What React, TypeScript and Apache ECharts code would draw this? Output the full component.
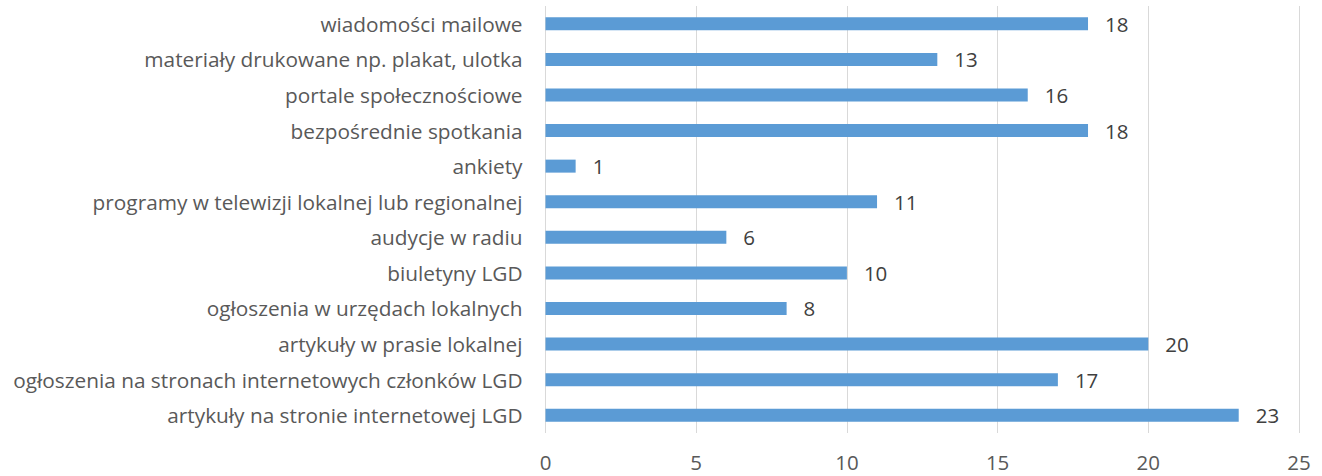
import React, { useEffect, useRef } from "react";
import * as echarts from "echarts";

const categories = [
  "artykuły na stronie internetowej LGD",
  "ogłoszenia na stronach internetowych członków LGD",
  "artykuły w prasie lokalnej",
  "ogłoszenia w urzędach lokalnych",
  "biuletyny LGD",
  "audycje w radiu",
  "programy w telewizji lokalnej lub regionalnej",
  "ankiety",
  "bezpośrednie spotkania",
  "portale społecznościowe",
  "materiały drukowane np. plakat, ulotka",
  "wiadomości mailowe",
];
const values = [23, 17, 20, 8, 10, 6, 11, 1, 18, 16, 13, 18];
const xTicks = { min: 0, max: 25, interval: 5 };

export default function App() {
  const ref = useRef<HTMLDivElement>(null);
  useEffect(() => {
    if (!ref.current) return;
    const chart = echarts.init(ref.current, null, { renderer: "svg" });
    const font = "'Open Sans', sans-serif";
    chart.setOption({
      animation: false,
      grid: { left: 545.5, right: 23, top: 6, bottom: 43, containLabel: false },
      xAxis: {
        type: "value",
        min: xTicks.min,
        max: xTicks.max,
        interval: xTicks.interval,
        axisLine: { show: false },
        axisTick: { show: false },
        axisLabel: { color: "#595959", fontSize: 20.5, fontFamily: font, margin: 18 },
        splitLine: { lineStyle: { color: "#d9d9d9", width: 1 } },
      },
      yAxis: {
        type: "category",
        data: categories,
        axisLine: { show: false },
        axisTick: { show: false },
        axisLabel: { color: "#595959", fontSize: 20.8, fontFamily: font, margin: 23 },
      },
      series: [
        {
          type: "bar",
          data: values,
          barWidth: 13,
          itemStyle: { color: "#5b9bd5" },
          label: {
            show: true,
            position: "right",
            distance: 17,
            color: "#404040",
            fontSize: 20.5,
            fontFamily: font,
          },
        },
      ],
    });
    return () => chart.dispose();
  }, []);
  return (
    <div
      ref={ref}
      style={{ position: "fixed", left: 0, top: 0, width: 1322, height: 476, background: "#fff" }}
    />
  );
}
